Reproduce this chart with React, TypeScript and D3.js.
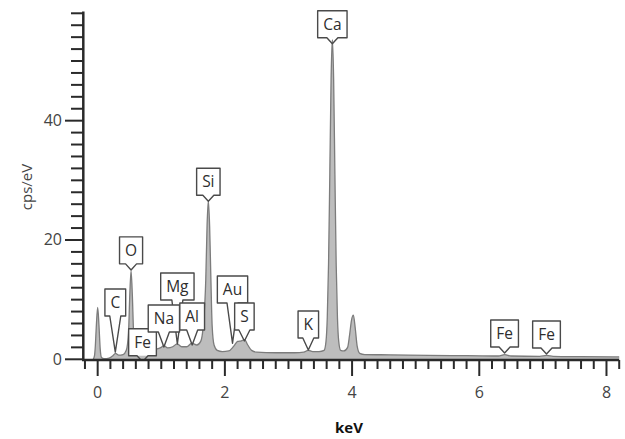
import React, { useEffect, useRef } from "react";
import * as d3 from "d3";

// EDS spectrum: energy (keV) vs. counts per eV
const energyKeV = [
  -0.07, -0.05, -0.04, -0.02, 0.0, 0.02, 0.04, 0.06, 0.1, 0.18, 0.24, 0.28, 0.33, 0.4, 0.45, 0.485, 0.505,
  0.525, 0.545, 0.565, 0.6, 0.65, 0.72, 0.82, 0.92, 1.0, 1.04, 1.1, 1.18, 1.25, 1.32, 1.4, 1.48, 1.56,
  1.62, 1.66, 1.7, 1.72, 1.74, 1.76, 1.78, 1.8, 1.83, 1.88, 1.96, 2.06, 2.14, 2.2, 2.26, 2.31, 2.36, 2.42,
  2.5, 2.8, 3.1, 3.24, 3.31, 3.38, 3.48, 3.56, 3.59, 3.61, 3.63, 3.65, 3.67, 3.69, 3.71, 3.73, 3.75,
  3.77, 3.79, 3.82, 3.87, 3.93, 3.96, 3.99, 4.02, 4.05, 4.08, 4.12, 4.2, 4.6, 5.2, 5.8, 6.3, 6.4, 6.5,
  6.95, 7.06, 7.16, 7.6, 8.2,
];
const countsPerEV = [
  0, 0.6, 1.7, 5.8, 8.7, 5.8, 1.7, 0.3, 0.1, 0.2, 0.6, 1.0, 0.7, 0.8, 1.5, 4.5, 10.8,
  14.8, 10.8, 4.5, 1.6, 1.4, 1.6, 1.6, 1.7, 2.0, 2.3, 1.9, 2.1, 2.6, 2.1, 2.1, 2.7, 2.4,
  3.0, 5.6, 13.5, 22.4, 26.6, 22.4, 13.5, 5.6, 2.4, 1.5, 1.3, 1.4, 2.2, 3.0, 3.1, 3.3, 2.4, 1.5,
  1.2, 1.1, 1.1, 1.2, 1.5, 1.3, 1.3, 1.5, 3.0, 7.0, 16.0, 31.0, 47.0, 53.6, 47.0, 31.0, 16.0,
  7.0, 3.0, 1.5, 1.4, 2.0, 4.0, 6.5, 7.4, 5.2, 2.2, 1.0, 0.8, 0.75, 0.65, 0.6, 0.55, 0.8, 0.55,
  0.5, 0.65, 0.5, 0.45, 0.4,
];

// Element line markers (drawn in this order so later boxes sit on top)
const markerElements = ["C", "O", "Mg", "Au", "Fe", "Na", "Al", "Si", "S", "K", "Ca", "Fe", "Fe"];
const markerEnergy = [0.277, 0.525, 1.253, 2.12, 0.705, 1.041, 1.486, 1.74, 2.307, 3.312, 3.69, 6.398, 7.057];
const markerBoxLevel = [7.26, 16.0, 9.94, 9.44, 0.6, 4.58, 4.91, 27.5, 4.91, 3.57, 53.9, 2.06, 1.9];
const markerTipLevel = [1.22, 14.97, 2.56, 2.7, -0.4, 2.06, 2.4, 26.5, 3.07, 1.56, 52.9, 1.06, 0.9];

const xMajorTicks = [0, 2, 4, 6, 8];
const yMajorTicks = [0, 20, 40];

const W = 625;
const H = 439;
const FONT = "'Open Sans', 'DejaVu Sans', sans-serif";

export default function App() {
  const ref = useRef<SVGSVGElement | null>(null);

  useEffect(() => {
    const svg = d3.select(ref.current);
    svg.selectAll("*").remove();

    const x = d3.scaleLinear().domain([-0.226, 8.2]).range([83.3, 619.2]);
    const y = d3.scaleLinear().domain([0, 58.3]).range([359.3, 11.5]);

    const data = energyKeV.map((e, i) => ({ e, c: countsPerEV[i] }));

    svg
      .append("defs")
      .append("clipPath")
      .attr("id", "plot-clip")
      .append("rect")
      .attr("x", 83)
      .attr("y", 0)
      .attr("width", 540)
      .attr("height", 359.3);

    const plot = svg.append("g").attr("clip-path", "url(#plot-clip)");

    const area = d3
      .area<{ e: number; c: number }>()
      .x((d) => x(d.e))
      .y0(y(0))
      .y1((d) => y(d.c))
      .curve(d3.curveMonotoneX);
    const line = d3
      .line<{ e: number; c: number }>()
      .x((d) => x(d.e))
      .y((d) => y(d.c))
      .curve(d3.curveMonotoneX);

    plot.append("path").datum(data).attr("d", area).attr("fill", "#bdbdbd");
    plot
      .append("path")
      .datum(data)
      .attr("d", line)
      .attr("fill", "none")
      .attr("stroke", "#7c7c7c")
      .attr("stroke-width", 1.3);

    // Element markers: white box with a V pointer down to the line position
    const boxH = 27;
    const halfV = 5.5;
    markerElements.forEach((name, i) => {
      const cx = x(markerEnergy[i]);
      const bottom = y(markerBoxLevel[i]);
      const tip = y(markerTipLevel[i]);
      const top = bottom - boxH;
      const g = plot.append("g");
      const txt = g
        .append("text")
        .attr("x", cx)
        .attr("y", top + boxH / 2 + 5.5)
        .attr("text-anchor", "middle")
        .attr("font-family", FONT)
        .attr("font-size", 15.5)
        .attr("fill", "#2e2e2e")
        .text(name);
      const tw = (txt.node() as SVGTextElement).getComputedTextLength();
      const bw = tw + 11;
      const x0 = cx - bw / 2;
      const x1 = cx + bw / 2;
      g.insert("rect", "text")
        .attr("x", x0)
        .attr("y", top)
        .attr("width", bw)
        .attr("height", boxH)
        .attr("fill", "#fff");
      const p = d3.path();
      p.moveTo(cx - halfV, bottom);
      p.lineTo(x0, bottom);
      p.lineTo(x0, top);
      p.lineTo(x1, top);
      p.lineTo(x1, bottom);
      p.lineTo(cx + halfV, bottom);
      p.lineTo(cx, tip);
      p.closePath();
      g.insert("path", "text")
        .attr("d", p.toString())
        .attr("fill", "none")
        .attr("stroke", "#4a4a4a")
        .attr("stroke-width", 1.4)
        .attr("stroke-linejoin", "round");
    });

    // Axes
    const axisColor = "#2a2a2a";
    const axes = svg.append("g");
    axes
      .append("line")
      .attr("x1", 83.3)
      .attr("x2", 83.3)
      .attr("y1", 11.5)
      .attr("y2", 361)
      .attr("stroke", axisColor)
      .attr("stroke-width", 2.5);
    axes
      .append("line")
      .attr("x1", 82)
      .attr("x2", 619.2)
      .attr("y1", 360)
      .attr("y2", 360)
      .attr("stroke", axisColor)
      .attr("stroke-width", 2.5);

    const xMinor = d3.range(-1, 42).map((k) => k * 0.2);
    xMinor.forEach((t) => {
      const major = xMajorTicks.some((m) => Math.abs(m - t) < 1e-6);
      axes
        .append("line")
        .attr("x1", x(t))
        .attr("x2", x(t))
        .attr("y1", 360)
        .attr("y2", major ? 376 : 369)
        .attr("stroke", axisColor)
        .attr("stroke-width", 2);
    });
    xMajorTicks.forEach((t) => {
      axes
        .append("text")
        .attr("x", x(t))
        .attr("y", 398)
        .attr("text-anchor", "middle")
        .attr("font-family", FONT)
        .attr("font-size", 16)
        .attr("fill", "#444")
        .text(String(t));
    });

    const yMinor = d3.range(0, 30).map((k) => k * 2);
    yMinor.forEach((t) => {
      const major = yMajorTicks.includes(t);
      axes
        .append("line")
        .attr("x1", major ? 65 : 71)
        .attr("x2", 83.3)
        .attr("y1", y(t))
        .attr("y2", y(t))
        .attr("stroke", axisColor)
        .attr("stroke-width", 2);
    });
    yMajorTicks.forEach((t) => {
      axes
        .append("text")
        .attr("x", 62)
        .attr("y", y(t) + 5.5)
        .attr("text-anchor", "end")
        .attr("font-family", FONT)
        .attr("font-size", 16)
        .attr("fill", "#444")
        .text(String(t));
    });

    svg
      .append("text")
      .attr("transform", "translate(32,187) rotate(-90)")
      .attr("text-anchor", "middle")
      .attr("font-family", FONT)
      .attr("font-size", 15)
      .attr("fill", "#444")
      .text("cps/eV");

    svg
      .append("text")
      .attr("x", 349)
      .attr("y", 433)
      .attr("text-anchor", "middle")
      .attr("font-family", FONT)
      .attr("font-size", 15)
      .attr("font-weight", "bold")
      .attr("fill", "#111")
      .text("keV");
  }, []);

  return (
    <svg
      ref={ref}
      width={W}
      height={H}
      style={{ position: "absolute", left: 0, top: 0, background: "#fff" }}
    />
  );
}
